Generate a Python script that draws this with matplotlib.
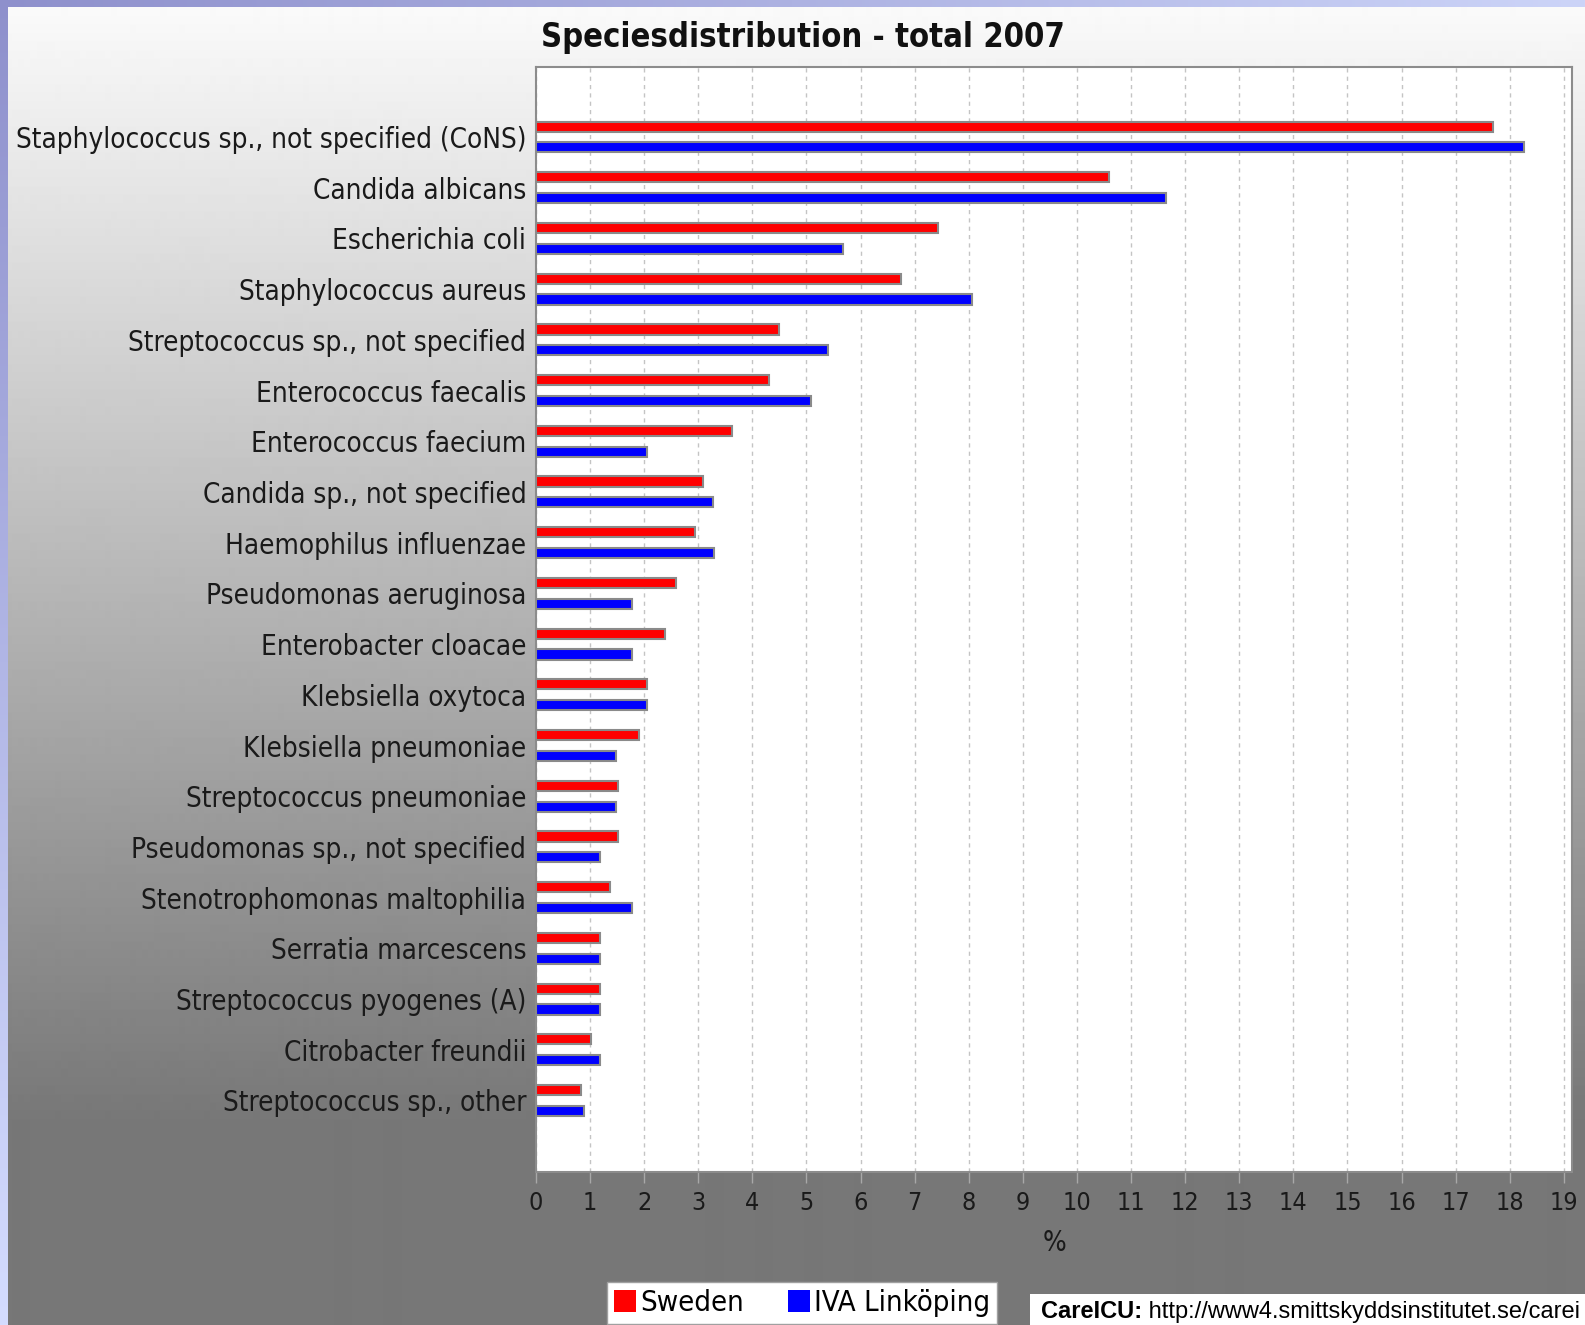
import numpy as np
import matplotlib
matplotlib.use("Agg")
import matplotlib.pyplot as plt
from matplotlib import font_manager
from matplotlib.font_manager import FontProperties
from matplotlib.patches import Patch, Rectangle

species = [
    "Staphylococcus sp., not specified (CoNS)",
    "Candida albicans",
    "Escherichia coli",
    "Staphylococcus aureus",
    "Streptococcus sp., not specified",
    "Enterococcus faecalis",
    "Enterococcus faecium",
    "Candida sp., not specified",
    "Haemophilus influenzae",
    "Pseudomonas aeruginosa",
    "Enterobacter cloacae",
    "Klebsiella oxytoca",
    "Klebsiella pneumoniae",
    "Streptococcus pneumoniae",
    "Pseudomonas sp., not specified",
    "Stenotrophomonas maltophilia",
    "Serratia marcescens",
    "Streptococcus pyogenes (A)",
    "Citrobacter freundii",
    "Streptococcus sp., other",
]
sweden = [17.69, 10.59, 7.44, 6.75, 4.49, 4.30, 3.62, 3.08, 2.94, 2.59,
          2.39, 2.05, 1.90, 1.52, 1.52, 1.37, 1.18, 1.18, 1.02, 0.84]
iva = [18.27, 11.65, 5.67, 8.06, 5.39, 5.08, 2.05, 3.28, 3.29, 1.77,
       1.77, 2.05, 1.47, 1.47, 1.18, 1.77, 1.18, 1.18, 1.18, 0.89]
series_names = ["Sweden", "IVA Linköping"]
xticks = list(range(0, 20))

W, H = 1585, 1325


def fx(px):
    return px / W


def fy(py):
    return 1 - py / H


def find_font(name):
    for f in font_manager.fontManager.ttflist:
        if f.fname.endswith(name):
            return f.fname
    return None


cond = find_font("DejaVuSansCondensed.ttf")
cond_b = find_font("DejaVuSansCondensed-Bold.ttf")


def fp(size, bold=False):
    path = cond_b if bold else cond
    if path:
        return FontProperties(fname=path, size=size)
    return FontProperties(family="DejaVu Sans", size=size,
                          weight="bold" if bold else "normal")


fig = plt.figure(figsize=(W / 100, H / 100), dpi=100)

# background: gray gradient panel with lavender frame strips
bg = fig.add_axes([0, 0, 1, 1])
bg.set_xlim(0, W)
bg.set_ylim(H, 0)
bg.axis("off")
rows = np.arange(H)
grad = np.clip(250 - (rows - 8) / (1124 - 8) * 131, 119, 250) / 255
bg.imshow(grad[:, None], cmap="gray", vmin=0, vmax=1, extent=[0, W, H, 0],
          aspect="auto", interpolation="bilinear")
c0 = np.array([0x8e, 0x90, 0xcc]) / 255
c1 = np.array([0xd4, 0xdc, 0xff]) / 255
c2 = np.array([0xcc, 0xd4, 0xf8]) / 255
t = np.linspace(0, 1, H)[:, None]
left_strip = (c0 * (1 - t) + c1 * t)[:, None, :]
bg.imshow(left_strip, extent=[0, 8, H, 0], aspect="auto")
t = np.linspace(0, 1, W)[:, None]
top_strip = (c0 * (1 - t) + c2 * t)[None, :, :]
bg.imshow(top_strip, extent=[0, W, 7, 0], aspect="auto")

ax = fig.add_axes([fx(536), fy(1172), (1572 - 536) / W, (1172 - 67) / H])
ax.set_facecolor("white")
y = np.arange(len(species))
ax.barh(y - 0.205, sweden, height=0.2, color="#ff0000", edgecolor="#8a8a8a",
        linewidth=1.5, zorder=3)
ax.barh(y + 0.205, iva, height=0.2, color="#0000ff", edgecolor="#8a8a8a",
        linewidth=1.5, zorder=3)
ax.set_xlim(0, 19.15)
ax.set_ylim(20.41, -1.38)
ax.set_xticks(xticks)
ax.set_yticks(y)
ax.set_yticklabels(species)
ax.grid(axis="x", color="#c4c4c4", linestyle=(0, (3, 3)), linewidth=1, zorder=0)
ax.tick_params(axis="y", length=0, pad=7, colors="#1a1a1a")
ax.tick_params(axis="x", length=8, width=1, color="#a8a8a8", pad=6,
               labelcolor="#1a1a1a")
for lbl in ax.get_yticklabels():
    lbl.set_fontproperties(fp(20))
for lbl in ax.get_xticklabels():
    lbl.set_fontproperties(fp(18))
for s in ax.spines.values():
    s.set_color("#8c8c8c")
    s.set_linewidth(1.5)

fig.text(fx(1054), fy(1243), "%", ha="center", va="center",
         fontproperties=fp(20), color="#1a1a1a")
fig.text(fx(803), fy(38), "Speciesdistribution - total 2007", ha="center",
         va="center", fontproperties=fp(23.5, bold=True), color="#111111")

handles = [Patch(facecolor="#ff0000"), Patch(facecolor="#0000ff")]
fig.legend(handles, series_names, loc="center",
           bbox_to_anchor=(fx(802), fy(1303)), ncol=2, frameon=True,
           fancybox=False, edgecolor="#a0a0a0", framealpha=1,
           borderpad=0.25, handlelength=0.75, handleheight=0.75,
           handletextpad=0.15, columnspacing=1.5, prop=fp(21),
           borderaxespad=0)

# source note, cut at the image edge as in the original
bg.add_patch(Rectangle((1030, 1294), W - 1030, H - 1294, facecolor="white",
                       edgecolor="none"))
t1 = bg.text(1041, 1312, "CareICU:", fontfamily="Liberation Sans",
             fontweight="bold", fontsize=17, va="center", ha="left")
bg.annotate(" http://www4.smittskyddsinstitutet.se/carei", xy=(1, 0.5),
            xycoords=t1, va="center", ha="left", fontfamily="Liberation Sans",
            fontsize=17, annotation_clip=False)

fig.savefig("out.png", dpi=100)
